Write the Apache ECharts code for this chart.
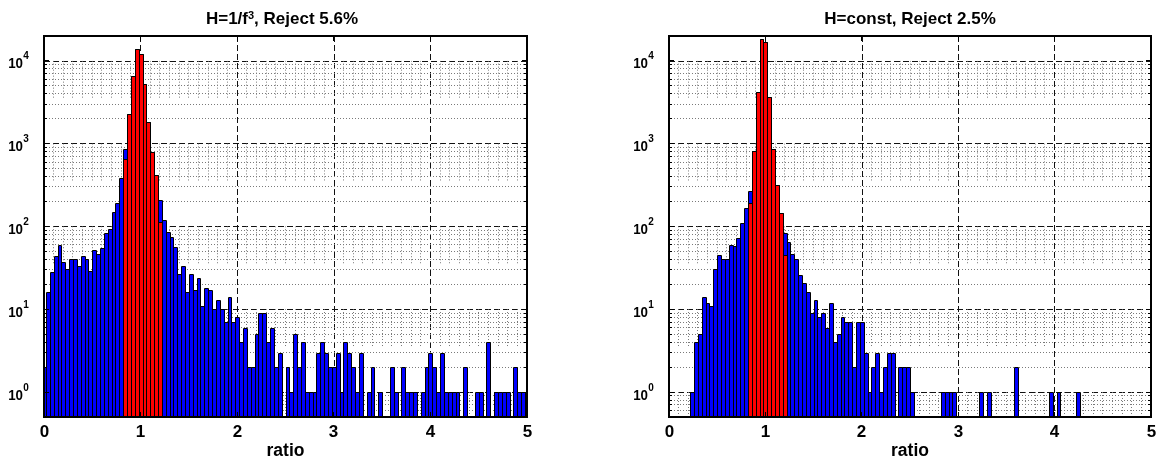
<!DOCTYPE html>
<html><head><meta charset="utf-8">
<script src="https://cdn.jsdelivr.net/npm/echarts@6/dist/echarts.min.js"></script>
<style>html,body{margin:0;padding:0;background:#fff}#c{width:1159px;height:461px}</style>
</head><body><div id="c"></div>
<script>
// ---------------- data ----------------
const binCenters = [
  0,0.04,0.08,0.12,0.16,0.2,0.24,0.28,0.32,0.36,0.4,0.44,0.48,0.52,0.56,0.6,0.64,0.68,0.72,0.76,0.8,0.84,0.88,0.92,0.96,
  1,1.04,1.08,1.12,1.16,1.2,1.24,1.28,1.32,1.36,1.4,1.44,1.48,1.52,1.56,1.6,1.64,1.68,1.72,1.76,1.8,1.84,1.88,1.92,1.96,
  2,2.04,2.08,2.12,2.16,2.2,2.24,2.28,2.32,2.36,2.4,2.44,2.48,2.52,2.56,2.6,2.64,2.68,2.72,2.76,2.8,2.84,2.88,2.92,2.96,
  3,3.04,3.08,3.12,3.16,3.2,3.24,3.28,3.32,3.36,3.4,3.44,3.48,3.52,3.56,3.6,3.64,3.68,3.72,3.76,3.8,3.84,3.88,3.92,3.96,
  4,4.04,4.08,4.12,4.16,4.2,4.24,4.28,4.32,4.36,4.4,4.44,4.48,4.52,4.56,4.6,4.64,4.68,4.72,4.76,4.8,4.84,4.88,4.92,4.96,
  5
];
const binWidth = 0.04;

// H=1/f^3 : all ratios (blue) and accepted ratios (red)
const leftAll = [
  2,16,28,44,60,37,31,40,40,33,44,40,29,52,46,55,84,93,151,191,385,858,2270,6600,13800,
  12000,5250,1850,785,417,207,120,85,74,56,27,33,16,27,17,24,11,18,17,10,13,10,7,14,7,
  8,4,6,2,2,5,9,9,4,6,2,3,0,2,1,5,2,4,1,1,1,3,4,3,2,
  2,3,1,4,3,2,1,3,0,1,2,0,1,0,0,2,1,0,2,1,1,1,0,1,2,
  3,2,1,3,1,1,1,1,0,2,0,0,1,1,0,4,0,1,1,1,1,0,2,1,1,
  1
];
const leftAccepted = [
  0,0,0,0,0,0,0,0,0,0,0,0,0,0,0,0,0,0,0,0,0,647,2270,6600,13800,
  12000,5250,1850,785,417,114,0,0,0,0,0,0,0,0,0,0,0,0,0,0,0,0,0,0,0,
  0,0,0,0,0,0,0,0,0,0,0,0,0,0,0,0,0,0,0,0,0,0,0,0,0,
  0,0,0,0,0,0,0,0,0,0,0,0,0,0,0,0,0,0,0,0,0,0,0,0,0,
  0,0,0,0,0,0,0,0,0,0,0,0,0,0,0,0,0,0,0,0,0,0,0,0,0,
  0
];
// H=const
const rightAll = [
  0,0,0,0,0,0,1,4,5,14,12,11,31,45,41,41,60,58,72,110,166,270,820,4160,18300,
  17000,3700,860,318,147,83,65,47,41,26,21,16,9,13,8,9,6,12,4,5,8,7,7,2,7,
  7,3,1,2,3,1,2,3,3,0,2,2,2,1,0,0,0,0,0,0,0,1,1,1,1,
  0,0,0,0,0,0,1,0,1,0,0,0,0,0,0,2,0,0,0,0,0,0,0,0,1,
  0,1,0,0,0,0,1,0,0,0,0,0,0,0,0,0,0,0,0,0,0,0,0,0,0,
  0
];
const rightAccepted = [
  0,0,0,0,0,0,0,0,0,0,0,0,0,0,0,0,0,0,0,0,0,190,820,4160,18300,
  17000,3700,860,318,147,45,0,0,0,0,0,0,0,0,0,0,0,0,0,0,0,0,0,0,0,
  0,0,0,0,0,0,0,0,0,0,0,0,0,0,0,0,0,0,0,0,0,0,0,0,0,
  0,0,0,0,0,0,0,0,0,0,0,0,0,0,0,0,0,0,0,0,0,0,0,0,0,
  0,0,0,0,0,0,0,0,0,0,0,0,0,0,0,0,0,0,0,0,0,0,0,0,0,
  0
];

const titleParts = [["H=1/f", "3", ", Reject 5.6%"], ["H=const", "", ", Reject 2.5%"]];
const xAxisName = "ratio";
const xTicks = [0, 1, 2, 3, 4, 5];
const xTickLabels = ["0", "1", "2", "3", "4", "5"];
const yMajorTicks = [1, 10, 100, 1000, 10000];
const yTickBase = "10";
const yTickExponents = ["0", "1", "2", "3", "4"];
const yMinorTicks = [0.6,0.7,0.8,0.9, 2,3,4,5,6,7,8,9, 20,30,40,50,60,70,80,90,
  200,300,400,500,600,700,800,900, 2000,3000,4000,5000,6000,7000,8000,9000];
const xMinorTicks = [0.1,0.2,0.3,0.4,0.5,0.6,0.7,0.8,0.9, 1.1,1.2,1.3,1.4,1.5,1.6,1.7,1.8,1.9,
  2.1,2.2,2.3,2.4,2.5,2.6,2.7,2.8,2.9, 3.1,3.2,3.3,3.4,3.5,3.6,3.7,3.8,3.9,
  4.1,4.2,4.3,4.4,4.5,4.6,4.7,4.8,4.9];
const minorBands = [[0.5, 1], [3.6, 10], [36, 100], [360, 1000], [3600, 10000]];
const xMin = 0, xMax = 5, yMin = 0.5, yMax = 20000;

// ---------------- chart ----------------
const FONT = "'Liberation Sans', Arial, Helvetica, sans-serif";
const chart = echarts.init(document.getElementById('c'), null, {renderer: 'canvas'});

function crisp(v) { return Math.round(v - 0.5) + 0.5; }

function barRenderer(fill) {
  return function (params, api) {
    const x = api.value(0), c = api.value(1);
    const cs = params.coordSys;
    const a = api.coord([x - binWidth / 2, c]);
    const b = api.coord([x + binWidth / 2, yMin]);
    const xa = Math.round(Math.max(a[0], cs.x));
    const xb = Math.round(Math.min(b[0], cs.x + cs.width));
    const ya = Math.round(a[1]);
    const yb = Math.round(cs.y + cs.height);
    if (xb <= xa) return null;
    return {type: 'group', children: [
      {type: 'rect', shape: {x: xa + 1, y: ya + 1, width: Math.max(xb - xa - 1, 0), height: yb - ya - 1},
        style: {fill: fill, stroke: null}},
      {type: 'polyline', shape: {points: [[xa + 0.5, yb], [xa + 0.5, ya + 0.5], [xb + 0.5, ya + 0.5], [xb + 0.5, yb]]},
        style: {fill: null, stroke: '#000', lineWidth: 1}}
    ]};
  };
}

function hMinorRender(params, api) {
  const cs = params.coordSys;
  const y = crisp(api.coord([xMin, api.value(0)])[1]);
  return {type: 'group', children: [
    {type: 'line', shape: {x1: cs.x + 2, y1: y, x2: cs.x + cs.width - 2, y2: y},
      style: {stroke: '#7a7a7a', lineWidth: 1, lineDash: [1, 2]}},
    {type: 'line', shape: {x1: cs.x, y1: y, x2: cs.x + 3, y2: y}, style: {stroke: '#000', lineWidth: 1}},
    {type: 'line', shape: {x1: cs.x + cs.width - 3, y1: y, x2: cs.x + cs.width, y2: y}, style: {stroke: '#000', lineWidth: 1}}
  ]};
}

function vMinorRender(params, api) {
  const p1 = api.coord([api.value(0), api.value(1)]);
  const p2 = api.coord([api.value(0), api.value(2)]);
  const x = crisp(p1[0]);
  return {type: 'line', shape: {x1: x, y1: p1[1], x2: x, y2: p2[1]},
    style: {stroke: '#7a7a7a', lineWidth: 1, lineDash: [1, 2]}};
}

function txt(s, x, y, size, align, sx) {
  return {type: 'text', x: x, y: y, scaleX: sx || 1,
    style: {text: s, x: 0, y: 0, fill: '#000', align: align, verticalAlign: 'middle',
      font: 'bold ' + size + 'px ' + FONT}};
}

function frameRender(params, api) {
  const cs = params.coordSys;
  const ch = [{type: 'rect', shape: {x: cs.x, y: cs.y, width: cs.width, height: cs.height},
    style: {fill: null, stroke: '#000', lineWidth: 2}}];
  xTicks.forEach(function (t, i) {
    const x = crisp(api.coord([t, yMin])[0]);
    ch.push({type: 'line', shape: {x1: x, y1: cs.y + cs.height, x2: x, y2: cs.y + cs.height - 5}, style: {stroke: '#000', lineWidth: 1}});
    ch.push({type: 'line', shape: {x1: x, y1: cs.y, x2: x, y2: cs.y + 5}, style: {stroke: '#000', lineWidth: 1}});
    ch.push(txt(xTickLabels[i], x, cs.y + cs.height + 15, 17, 'center'));
  });
  yMajorTicks.forEach(function (t, i) {
    const y = crisp(api.coord([xMin, t])[1]);
    ch.push({type: 'line', shape: {x1: cs.x, y1: y, x2: cs.x + 5, y2: y}, style: {stroke: '#000', lineWidth: 1}});
    ch.push({type: 'line', shape: {x1: cs.x + cs.width, y1: y, x2: cs.x + cs.width - 5, y2: y}, style: {stroke: '#000', lineWidth: 1}});
    ch.push(txt(yTickBase, cs.x - 21, y + 3, 15.5, 'right', 0.86));
    ch.push(txt(yTickExponents[i], cs.x - 20.8, y - 4, 10, 'left'));
  });
  ch.push(txt(xAxisName, cs.x + cs.width / 2, cs.y + cs.height + 34.5, 17.5, 'center'));
  return {type: 'group', children: ch};
}

function barData(counts) {
  const out = [];
  counts.forEach(function (c, i) { if (c > 0) out.push([binCenters[i], c]); });
  return out;
}

const vMinorData = [];
xMinorTicks.forEach(function (x) { minorBands.forEach(function (b) { vMinorData.push([x, b[0], b[1]]); }); });
const hMinorData = yMinorTicks.map(function (v) { return [v]; });

const grids = [
  {left: 44, top: 36, width: 483, height: 381},
  {left: 669, top: 36, width: 482, height: 381}
];
const titleCenters = [277, 905];
const panels = [[leftAll, leftAccepted], [rightAll, rightAccepted]];

const option = {
  backgroundColor: '#fff',
  animation: false,
  title: grids.map(function (g, i) {
    const p = titleParts[i];
    const t = '{t|' + p[0] + '}' + (p[1] ? '{s|' + p[1] + '}' : '') + '{t|' + p[2] + '}';
    return {text: t, left: titleCenters[i], top: 5.5, textAlign: 'center',
      textStyle: {rich: {
        t: {fontFamily: FONT, fontWeight: 'bold', fontSize: 17, color: '#000'},
        s: {fontFamily: FONT, fontWeight: 'bold', fontSize: 11, color: '#000', verticalAlign: 'top'}
      }}};
  }),
  grid: grids.map(function (g) { return Object.assign({containLabel: false}, g); }),
  xAxis: grids.map(function (g, i) {
    return {type: 'value', gridIndex: i, min: xMin, max: xMax, interval: 1,
      axisLine: {show: false}, axisTick: {show: false}, axisLabel: {show: false},
      splitLine: {show: true, lineStyle: {color: '#111', width: 1, type: [6, 3]}}};
  }),
  yAxis: grids.map(function (g, i) {
    return {type: 'log', logBase: 10, gridIndex: i, min: yMin, max: yMax,
      axisLine: {show: false}, axisTick: {show: false}, axisLabel: {show: false},
      splitLine: {show: true, lineStyle: {color: '#111', width: 1, type: [6, 3]}}};
  }),
  series: []
};

panels.forEach(function (p, i) {
  option.series.push({type: 'custom', xAxisIndex: i, yAxisIndex: i, z: 1, silent: true,
    renderItem: hMinorRender, encode: {y: 0}, data: hMinorData});
  option.series.push({type: 'custom', xAxisIndex: i, yAxisIndex: i, z: 1, silent: true,
    renderItem: vMinorRender, encode: {x: 0, y: [1, 2]}, data: vMinorData});
  option.series.push({type: 'custom', name: 'all', xAxisIndex: i, yAxisIndex: i, z: 2,
    renderItem: barRenderer('#0000ff'), encode: {x: 0, y: 1}, data: barData(p[0])});
  option.series.push({type: 'custom', name: 'accepted', xAxisIndex: i, yAxisIndex: i, z: 3,
    renderItem: barRenderer('#ff0000'), encode: {x: 0, y: 1}, data: barData(p[1])});
  option.series.push({type: 'custom', xAxisIndex: i, yAxisIndex: i, z: 10, silent: true,
    renderItem: frameRender, encode: {x: 0, y: 1}, data: [[xMin, yMin]]});
});

chart.setOption(option);
</script>
</body></html>
